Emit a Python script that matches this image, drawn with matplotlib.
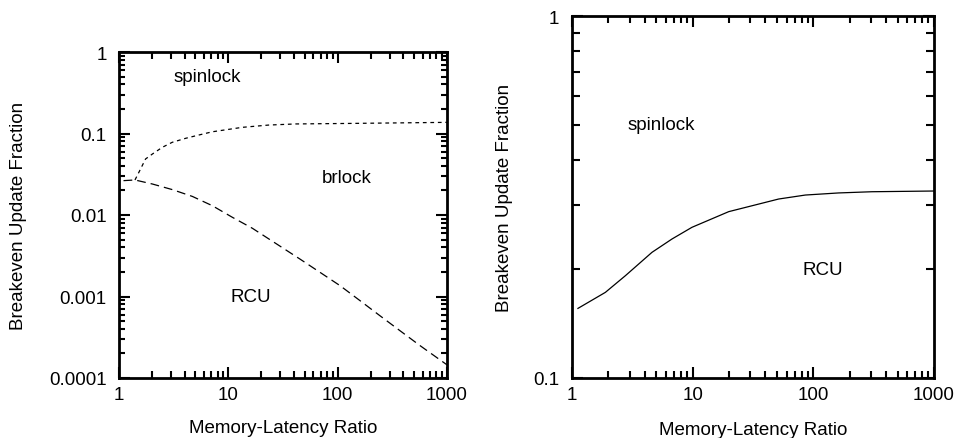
import numpy as np
import matplotlib
matplotlib.use("Agg")
import matplotlib.pyplot as plt
from matplotlib.ticker import FixedLocator, FixedFormatter, NullFormatter

plt.rcParams['font.family'] = ['Liberation Sans', 'DejaVu Sans']
plt.rcParams['font.size'] = 13.5

# left panel: spinlock/brlock boundary (short dashes) and brlock/RCU boundary (long dashes)
brlock_x = [1.40, 1.52, 1.75, 2.02, 2.49, 3.07, 4.07, 5.39, 7.14, 9.46, 13.4, 23.5, 41.3, 136, 1000]
brlock_y = [0.0269, 0.0334, 0.0487, 0.056, 0.0677, 0.078, 0.0873, 0.0959, 0.105, 0.111, 0.119, 0.127, 0.131, 0.133, 0.137]
rcu_x = [1.1, 1.40, 2.02, 3.07, 4.69, 7.14, 10.9, 16.6, 23.5, 45.2, 68.9, 105, 160, 244, 372, 566, 1000]
rcu_y = [0.0264, 0.0269, 0.0240, 0.0205, 0.0169, 0.0130, 0.00936, 0.00687, 0.00508, 0.00288,
         0.00198, 0.00136, 0.00089, 0.00058, 0.00038, 0.00025, 0.000145]

# right panel: spinlock/RCU boundary
spin_x = [1.12, 1.89, 2.77, 4.60, 6.74, 9.87, 19.9, 51.6, 85.9, 162, 306, 1000]
spin_y = [0.1557, 0.1724, 0.1917, 0.2224, 0.2421, 0.2608, 0.2881, 0.3122, 0.3202, 0.3245, 0.3270, 0.3285]

x_ticks = [1, 10, 100, 1000]
x_labels = ["1", "10", "100", "1000"]
left_yticks = [1e-4, 1e-3, 1e-2, 1e-1, 1]
left_ylabels = ["0.0001", "0.001", "0.01", "0.1", "1"]
right_yticks = [0.1, 1]
right_ylabels = ["0.1", "1"]

W, H = 957, 439
fig = plt.figure(figsize=(W / 100, H / 100), dpi=100)


def px_axes(x0, y0, x1, y1):
    return fig.add_axes([x0 / W, 1 - y1 / H, (x1 - x0) / W, (y1 - y0) / H])


def style(ax, ylo, yhi, yticks, ylabels, yminor, ymin_len):
    ax.set_xscale('log')
    ax.set_yscale('log')
    ax.set_xlim(1, 1000)
    ax.set_ylim(ylo, yhi)
    ax.xaxis.set_major_locator(FixedLocator(x_ticks))
    ax.xaxis.set_major_formatter(FixedFormatter(x_labels))
    xminor = [m * d for d in (1, 10, 100) for m in range(2, 10)]
    ax.xaxis.set_minor_locator(FixedLocator(xminor))
    ax.xaxis.set_minor_formatter(NullFormatter())
    ax.yaxis.set_major_locator(FixedLocator(yticks))
    ax.yaxis.set_major_formatter(FixedFormatter(ylabels))
    ax.yaxis.set_minor_locator(FixedLocator(yminor))
    ax.yaxis.set_minor_formatter(NullFormatter())
    for s in ax.spines.values():
        s.set_linewidth(2)
    ax.tick_params(which='both', direction='in', top=True, right=True, width=1.5, colors='black')
    ax.tick_params(axis='x', which='major', length=8, pad=6)
    ax.tick_params(axis='x', which='minor', length=5)
    ax.tick_params(axis='y', which='major', length=8, pad=9)
    ax.tick_params(axis='y', which='minor', length=ymin_len)
    ax.set_xlabel("Memory-Latency Ratio")
    ax.set_ylabel("Breakeven Update Fraction")


ax1 = px_axes(119, 53, 447, 379)
left_minor = [m * d for d in (1e-4, 1e-3, 1e-2, 1e-1) for m in range(2, 10)]
style(ax1, 1e-4, 1, left_yticks, left_ylabels, left_minor, 4)
ax1.plot(brlock_x, brlock_y, color='black', lw=0.9, dashes=(3, 3))
ax1.plot(rcu_x, rcu_y, color='black', lw=0.9, dashes=(7, 4))
ax1.text(6.4, 0.5, "spinlock", ha='center', va='center')
ax1.text(120, 0.029, "brlock", ha='center', va='center')
ax1.text(16, 0.001, "RCU", ha='center', va='center')
ax1.xaxis.set_label_coords(0.5, -0.126)
ax1.yaxis.set_label_coords(-0.28, 0.5)

ax2 = px_axes(572, 17, 934, 379)
right_minor = [m / 10 for m in range(2, 10)]
style(ax2, 0.1, 1, right_yticks, right_ylabels, right_minor, 6)
ax2.plot(spin_x, spin_y, color='black', lw=0.9)
ax2.text(5.5, 0.5, "spinlock", ha='center', va='center')
ax2.text(120, 0.2, "RCU", ha='center', va='center')
ax2.xaxis.set_label_coords(0.5, -0.118)
ax2.yaxis.set_label_coords(-0.163, 0.5)

fig.savefig("out.png", dpi=100)
